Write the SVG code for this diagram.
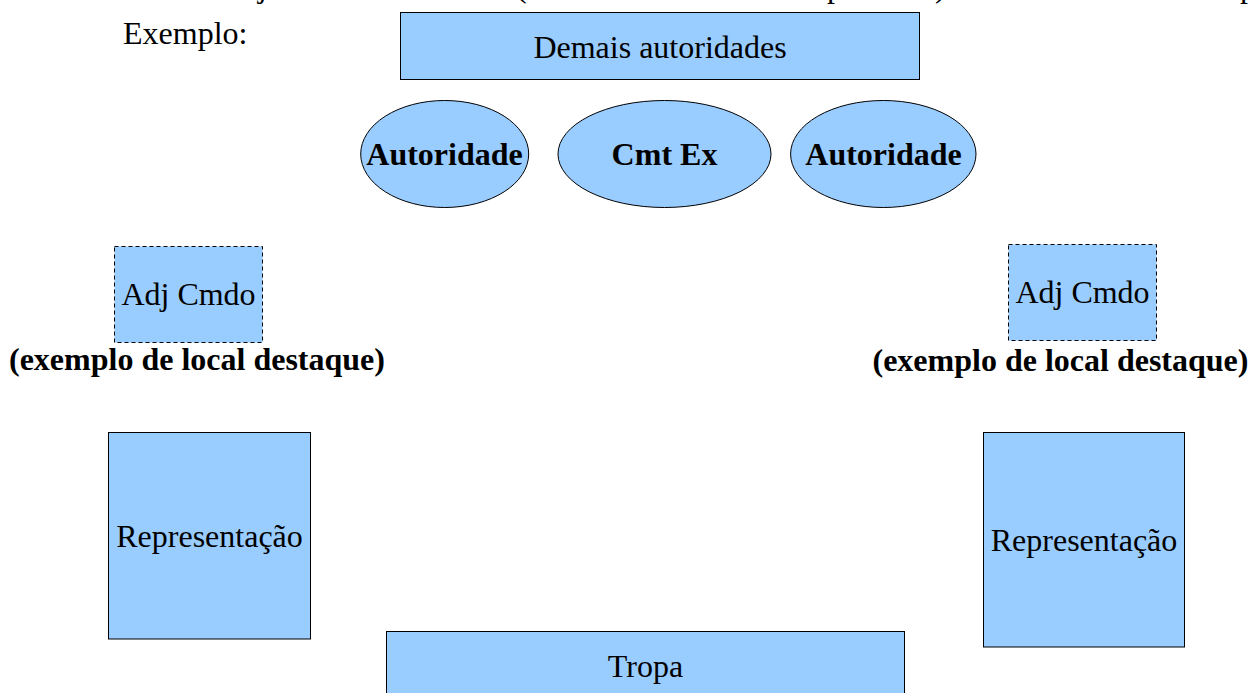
<svg xmlns="http://www.w3.org/2000/svg" width="1251" height="693" viewBox="0 0 1251 693">
<style>
text{font-family:"Liberation Serif","Times New Roman",serif;font-size:32px;fill:#000}
.b{font-weight:bold}
.m{text-anchor:middle}
.shape{fill:#99ccff;stroke:#000;stroke-width:1}
.dash{fill:#99ccff;stroke:#000;stroke-width:1;stroke-dasharray:4 3}
</style>
<rect width="1251" height="693" fill="#fff"/>
<g id="cutoff-line">
<text x="258" y="-3">j</text>
<text x="516" y="-3">(</text>
<text x="827" y="-3">p</text>
<text x="935" y="-3">)</text>
<text x="1240" y="-3">p</text>
</g>
<text id="exemplo" x="123" y="44">Exemplo:</text>
<g id="demais"><rect class="shape" x="400.5" y="12.5" width="519" height="67"/><text class="m" x="660" y="57.5">Demais autoridades</text></g>
<g id="autoridade-esq"><ellipse class="shape" cx="444.7" cy="154" rx="84" ry="53.5"/><text class="m b" x="444.5" y="164.5">Autoridade</text></g>
<g id="cmt-ex"><ellipse class="shape" cx="664.5" cy="154" rx="106.5" ry="53.5"/><text class="m b" x="664.5" y="164.5">Cmt Ex</text></g>
<g id="autoridade-dir"><ellipse class="shape" cx="883.3" cy="154" rx="92.7" ry="53.5"/><text class="m b" x="883.5" y="164.5">Autoridade</text></g>
<g id="adj-esq"><rect class="dash" x="114.5" y="246.5" width="148" height="96"/><text class="m" x="188.5" y="305">Adj Cmdo</text></g>
<g id="adj-dir"><rect class="dash" x="1008.5" y="244.5" width="148" height="96"/><text class="m" x="1082.5" y="303.3">Adj Cmdo</text></g>
<text id="destaque-esq" class="b" x="9" y="369.5">(exemplo de local destaque)</text>
<text id="destaque-dir" class="b" x="872.5" y="370.5">(exemplo de local destaque)</text>
<g id="repr-esq"><rect class="shape" x="108.5" y="432.5" width="202" height="206.5"/><text class="m" x="209.5" y="546.7">Representação</text></g>
<g id="repr-dir"><rect class="shape" x="983.5" y="432.5" width="201" height="214.5"/><text class="m" x="1084" y="551">Representação</text></g>
<g id="tropa"><rect class="shape" x="386.5" y="631.5" width="518" height="67"/><text class="m" x="645.5" y="676.5">Tropa</text></g>
<g id="connectors"/>
</svg>
